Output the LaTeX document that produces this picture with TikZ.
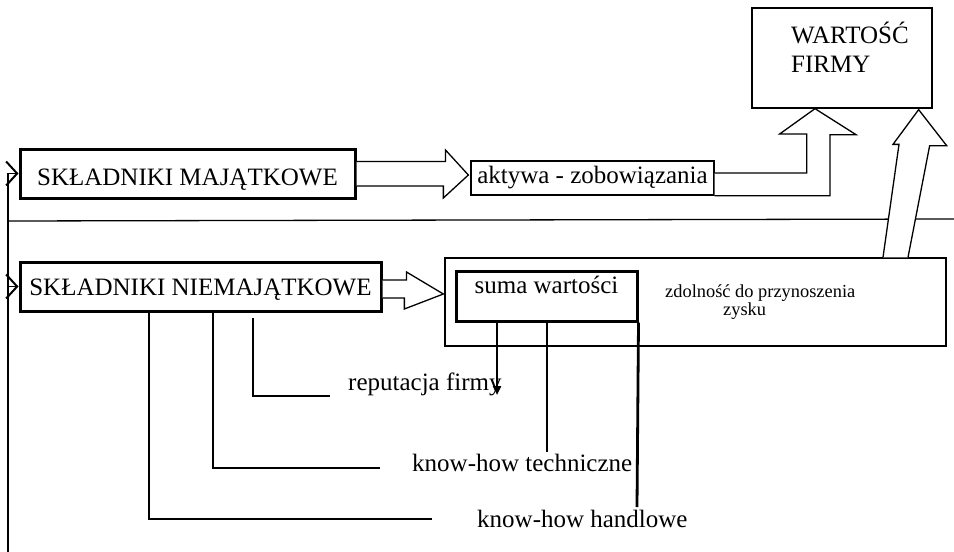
\documentclass[tikz,border=0pt]{standalone}
\usepackage{fontspec}
\setmainfont{Liberation Serif}
\usetikzlibrary{arrows.meta,calc}

\begin{document}
\begin{tikzpicture}[x=1pt,y=-1pt,
  heavybox/.style={draw,line width=3pt,inner sep=0pt,font=\fontsize{25}{29}\selectfont},
  lightbox/.style={draw,line width=1.3pt,inner sep=0pt,font=\fontsize{25}{29}\selectfont},
  txt/.style={inner sep=0pt,font=\fontsize{25}{29}\selectfont},
  smalltxt/.style={inner sep=0pt,font=\fontsize{18.4}{22}\selectfont},
  lead/.style={line width=2.8pt},
  thinline/.style={line width=1.3pt},
  blockarrow/.style={draw,line width=1.3pt,line join=miter,fill=white},
  barb/.style={line width=1.5pt,-{Straight Barb[length=11pt,width=24pt,line width=2pt]}},
]
\useasboundingbox (0,0) rectangle (954,552);

% separator between the two groups of components
\coordinate (sepL) at (8,221);
\coordinate (sepR) at (954,219);
\draw[thinline] (sepL) -- (sepR);

% component boxes
\node[heavybox,minimum width=335pt,minimum height=49pt,text height=24pt,text depth=0pt]
  (sm) at (187.5,173.5) {SKŁADNIKI MAJĄTKOWE};
\node[heavybox,minimum width=361pt,minimum height=49pt,text height=18pt,text depth=0pt]
  (sn) at (200.5,286.5) {SKŁADNIKI NIEMAJĄTKOWE};

% balance-sheet value
\node[lightbox,minimum width=243pt,minimum height=34pt,text height=16pt,text depth=6pt]
  (ak) at (592.5,178) {aktywa - zobowiązania};

% earning capacity frame with the inner sum box
\node[lightbox,minimum width=501pt,minimum height=88pt] (zd) at (695.5,302) {};
\node[heavybox,fill=white,minimum width=181pt,minimum height=50pt,text height=8pt,text depth=14pt]
  (sw) at (546.5,296) {suma wartości};
\node[smalltxt,anchor=base west] (zdA) at (665,297) {zdolność do przynoszenia};
\node[smalltxt,anchor=base west] (zdB) at (723,315) {zysku};

% company value
\node[lightbox,minimum width=180pt,minimum height=100pt] (wf) at (842,58) {};
\node[txt,anchor=base west] (wfA) at (791,43) {WARTOŚĆ};
\node[txt,anchor=base west] (wfB) at (791,72) {FIRMY};

% left feed line into both component boxes
\coordinate (bus) at (8,552);
\draw[barb] (bus) |- (sm.west);
\draw[barb] (bus) |- (sn.west);

% block arrows
\draw[blockarrow] ($(sm.east)+(0,-12)$) -- ++(89,0) -- ++(0,-11.5)
  -- ($(ak.west)+(-2,-3)$) -- ++(-25,23) -- ++(0,-12) -- ($(sm.east)+(0,12.5)$);
\draw[blockarrow] ($(sn.east)+(0,-6.5)$) -- ++(24,0) -- ++(0,-8)
  -- ($(zd.west)+(-1,-8)$) -- ++(-39,15) -- ++(0,-11) -- ($(sn.east)+(0,11.5)$);
\draw[blockarrow] ($(ak.east)+(0,-5)$) -- ++(92,0) -- ++(0,-39) -- ++(-27,0)
  -- (wf.south -| 815,0) -- ++(41,26) -- ++(-26,0) -- ++(0,61) -- ($(ak.south east)$);
\draw[blockarrow] (zd.north -| 883,0) -- ++(16,-113) -- ++(-6,0)
  -- ($(wf.south east)+(-14,1)$) -- ++(28,36) -- ++(-17,0) -- (zd.north -| 908,0);

% intangible components
\node[txt,anchor=base west] (lRep) at (348,390) {reputacja firmy};
\node[txt,anchor=base west] (lTech) at (412,471) {know-how techniczne};
\node[txt,anchor=base west] (lHand) at (477,527) {know-how handlowe};

\coordinate (rStart) at (253,318);
\coordinate (rEnd) at (330,396);
\coordinate (tEnd) at (380,468);
\coordinate (hEnd) at (432,519);
\draw[lead] (rStart) |- (rEnd);
\draw[lead] (sn.south -| 213,0) |- (tEnd);
\draw[lead] (sn.south -| 149,0) |- (hEnd);

% branches leaving the sum box
\coordinate (rTip) at (497,395);
\coordinate (tFoot) at (547,452);
\coordinate (hFoot) at (637,507);
\draw[lead,-{Triangle[length=9pt,width=8pt]}] (sw.south -| rTip) -- (rTip);
\draw[lead] (sw.south -| tFoot) -- (tFoot);
\draw[lead] (sw.south east) -- (hFoot);
\end{tikzpicture}
\end{document}
